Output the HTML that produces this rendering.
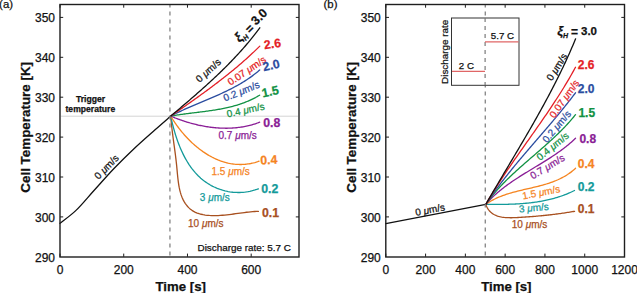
<!DOCTYPE html>
<html><head><meta charset="utf-8"><style>
html,body{margin:0;padding:0;background:#fff;width:637px;height:293px;overflow:hidden}
svg{display:block}
text{font-family:"Liberation Sans", sans-serif;stroke-width:0.25px}
</style></head><body>
<svg width="637" height="293" viewBox="0 0 637 293">
<rect width="637" height="293" fill="#fff"/><g fill="#111" stroke="#111">
<line x1="61" y1="116.2" x2="298" y2="116.2" stroke="#d4d4d4" stroke-width="1"/>
<path d="M60.00,223.30 C62.67,221.15 70.33,215.87 76.00,210.40 C81.67,204.93 87.67,197.48 94.00,190.50 C100.33,183.52 107.33,175.47 114.00,168.50 C120.67,161.53 127.20,155.12 134.00,148.70 C140.80,142.28 148.68,135.43 154.80,130.00 C160.92,124.57 168.05,118.42 170.70,116.10" fill="none" stroke="#111111" stroke-width="1.30" stroke-linecap="round" stroke-linejoin="round"/>
<path d="M170.70,116.10 L170.88,118.32 L171.08,120.51 L171.29,122.68 L171.51,124.82 L171.74,126.93 L171.99,129.03 L172.24,131.11 L172.49,133.17 L172.76,135.21 L173.03,137.25 L173.30,139.28 L173.58,141.30 L173.85,143.32 L174.13,145.34 L174.41,147.36 L174.68,149.38 L174.96,151.41 L175.22,153.45 L175.49,155.50 L175.74,157.57 L175.99,159.65 L176.23,161.75 L176.47,163.87 L176.69,166.01 L176.89,168.18 L177.10,170.37 L177.30,172.58 L177.51,174.79 L177.73,177.01 L177.98,179.23 L178.25,181.44 L178.56,183.63 L178.91,185.80 L179.31,187.95 L179.77,190.06 L180.30,192.13 L180.89,194.15 L181.57,196.12 L182.33,198.03 L183.18,199.88 L184.14,201.65 L185.19,203.34 L186.35,204.95 L187.61,206.47 L188.97,207.87 L190.43,209.17 L191.99,210.35 L193.64,211.40 L195.39,212.31 L197.22,213.08 L199.14,213.73 L201.11,214.26 L203.14,214.69 L205.21,215.03 L207.30,215.29 L209.42,215.47 L211.56,215.58 L213.72,215.62 L215.90,215.61 L218.10,215.54 L220.30,215.42 L222.51,215.26 L224.73,215.06 L226.94,214.83 L229.16,214.57 L231.37,214.30 L233.58,214.01 L235.77,213.71 L237.96,213.40 L240.12,213.10 L242.27,212.81 L244.40,212.53 L246.49,212.27 L248.57,212.03 L250.61,211.82 L252.61,211.65 L254.58,211.52 L256.51,211.43 L258.40,211.40" fill="none" stroke="#a8501f" stroke-width="1.30" stroke-linecap="round" stroke-linejoin="round"/>
<path d="M170.70,116.10 L171.04,117.68 L171.39,119.26 L171.75,120.86 L172.13,122.46 L172.52,124.07 L172.93,125.68 L173.35,127.30 L173.79,128.92 L174.25,130.54 L174.72,132.17 L175.20,133.79 L175.71,135.41 L176.23,137.03 L176.77,138.64 L177.32,140.25 L177.90,141.86 L178.50,143.46 L179.11,145.05 L179.75,146.63 L180.40,148.20 L181.08,149.77 L181.78,151.31 L182.49,152.85 L183.23,154.37 L184.00,155.88 L184.78,157.37 L185.59,158.85 L186.42,160.30 L187.28,161.74 L188.16,163.15 L189.06,164.55 L189.99,165.92 L190.95,167.26 L191.93,168.59 L192.94,169.88 L193.97,171.15 L195.03,172.40 L196.12,173.61 L197.23,174.79 L198.38,175.95 L199.55,177.07 L200.75,178.15 L201.98,179.20 L203.24,180.22 L204.53,181.20 L205.84,182.15 L207.18,183.06 L208.54,183.93 L209.93,184.76 L211.34,185.56 L212.77,186.31 L214.23,187.03 L215.70,187.70 L217.20,188.34 L218.71,188.93 L220.24,189.48 L221.79,189.98 L223.35,190.44 L224.93,190.86 L226.53,191.23 L228.14,191.55 L229.76,191.83 L231.39,192.06 L233.03,192.25 L234.68,192.38 L236.35,192.46 L238.02,192.50 L239.70,192.49 L241.38,192.42 L243.07,192.30 L244.77,192.13 L246.47,191.91 L248.17,191.63 L249.87,191.30 L251.58,190.91 L253.29,190.47 L254.99,189.97 L256.70,189.41 L258.40,188.80" fill="none" stroke="#139a9a" stroke-width="1.30" stroke-linecap="round" stroke-linejoin="round"/>
<path d="M170.70,116.10 L171.38,117.23 L172.07,118.35 L172.78,119.48 L173.51,120.60 L174.25,121.72 L175.00,122.83 L175.77,123.95 L176.55,125.05 L177.35,126.15 L178.17,127.25 L178.99,128.34 L179.83,129.42 L180.69,130.50 L181.55,131.57 L182.43,132.63 L183.33,133.68 L184.23,134.72 L185.15,135.75 L186.09,136.78 L187.03,137.79 L187.99,138.79 L188.96,139.78 L189.94,140.76 L190.94,141.72 L191.94,142.68 L192.96,143.61 L193.99,144.54 L195.03,145.45 L196.08,146.35 L197.14,147.23 L198.21,148.09 L199.29,148.94 L200.39,149.77 L201.49,150.58 L202.61,151.38 L203.73,152.16 L204.86,152.91 L206.01,153.65 L207.16,154.37 L208.32,155.07 L209.49,155.75 L210.67,156.40 L211.86,157.04 L213.06,157.65 L214.26,158.24 L215.48,158.81 L216.70,159.35 L217.93,159.87 L219.17,160.36 L220.41,160.83 L221.66,161.27 L222.92,161.69 L224.19,162.08 L225.46,162.44 L226.75,162.77 L228.03,163.08 L229.33,163.36 L230.63,163.61 L231.93,163.82 L233.25,164.01 L234.57,164.17 L235.89,164.30 L237.22,164.39 L238.55,164.45 L239.89,164.48 L241.24,164.48 L242.59,164.44 L243.94,164.37 L245.30,164.27 L246.66,164.13 L248.03,163.95 L249.40,163.74 L250.78,163.49 L252.16,163.20 L253.54,162.88 L254.93,162.52 L256.31,162.12 L257.71,161.68 L259.10,161.20" fill="none" stroke="#f5841f" stroke-width="1.30" stroke-linecap="round" stroke-linejoin="round"/>
<path d="M170.70,116.10 L171.74,116.54 L172.79,116.98 L173.85,117.40 L174.90,117.83 L175.97,118.24 L177.04,118.65 L178.11,119.05 L179.19,119.45 L180.27,119.84 L181.35,120.22 L182.45,120.59 L183.54,120.96 L184.64,121.32 L185.74,121.67 L186.85,122.02 L187.96,122.35 L189.07,122.68 L190.19,123.00 L191.31,123.31 L192.43,123.62 L193.55,123.91 L194.68,124.20 L195.81,124.48 L196.95,124.75 L198.08,125.01 L199.22,125.26 L200.36,125.50 L201.51,125.73 L202.65,125.96 L203.80,126.17 L204.95,126.37 L206.10,126.57 L207.25,126.75 L208.40,126.93 L209.56,127.09 L210.71,127.24 L211.87,127.38 L213.02,127.52 L214.18,127.64 L215.34,127.75 L216.50,127.85 L217.66,127.94 L218.82,128.01 L219.98,128.08 L221.14,128.13 L222.30,128.18 L223.46,128.21 L224.62,128.22 L225.78,128.23 L226.93,128.23 L228.09,128.21 L229.25,128.18 L230.40,128.14 L231.56,128.08 L232.71,128.01 L233.86,127.93 L235.01,127.84 L236.16,127.73 L237.31,127.61 L238.45,127.47 L239.60,127.33 L240.74,127.16 L241.88,126.99 L243.01,126.80 L244.15,126.60 L245.28,126.38 L246.41,126.15 L247.53,125.90 L248.66,125.64 L249.78,125.36 L250.89,125.07 L252.01,124.77 L253.12,124.45 L254.22,124.11 L255.33,123.76 L256.43,123.39 L257.52,123.01 L258.61,122.61 L259.70,122.20" fill="none" stroke="#8a1e96" stroke-width="1.30" stroke-linecap="round" stroke-linejoin="round"/>
<path d="M170.70,116.10 L171.83,115.90 L172.97,115.70 L174.11,115.51 L175.25,115.33 L176.39,115.15 L177.54,114.97 L178.68,114.80 L179.83,114.63 L180.98,114.47 L182.13,114.31 L183.29,114.15 L184.44,114.00 L185.60,113.84 L186.75,113.69 L187.91,113.55 L189.07,113.40 L190.23,113.25 L191.39,113.11 L192.55,112.97 L193.71,112.82 L194.87,112.68 L196.04,112.54 L197.20,112.40 L198.36,112.25 L199.52,112.11 L200.69,111.96 L201.85,111.82 L203.01,111.67 L204.17,111.52 L205.33,111.36 L206.49,111.21 L207.65,111.05 L208.81,110.89 L209.97,110.72 L211.13,110.56 L212.28,110.38 L213.44,110.21 L214.59,110.02 L215.75,109.84 L216.90,109.65 L218.05,109.45 L219.20,109.25 L220.34,109.04 L221.49,108.82 L222.63,108.60 L223.77,108.38 L224.91,108.14 L226.04,107.90 L227.18,107.65 L228.31,107.39 L229.44,107.12 L230.56,106.85 L231.69,106.57 L232.81,106.27 L233.92,105.97 L235.04,105.66 L236.15,105.34 L237.26,105.01 L238.36,104.67 L239.46,104.31 L240.56,103.95 L241.65,103.58 L242.74,103.19 L243.83,102.79 L244.91,102.38 L245.99,101.96 L247.07,101.52 L248.14,101.07 L249.20,100.61 L250.26,100.14 L251.32,99.65 L252.37,99.14 L253.42,98.62 L254.46,98.09 L255.50,97.55 L256.53,96.98 L257.56,96.40 L258.58,95.81 L259.60,95.20" fill="none" stroke="#119143" stroke-width="1.30" stroke-linecap="round" stroke-linejoin="round"/>
<path d="M170.70,116.10 L171.82,115.51 L172.95,114.93 L174.08,114.36 L175.22,113.79 L176.35,113.23 L177.49,112.68 L178.64,112.13 L179.79,111.58 L180.94,111.04 L182.09,110.51 L183.25,109.98 L184.41,109.45 L185.57,108.93 L186.73,108.41 L187.90,107.90 L189.07,107.38 L190.24,106.87 L191.41,106.37 L192.58,105.86 L193.75,105.36 L194.93,104.86 L196.10,104.36 L197.28,103.86 L198.46,103.36 L199.64,102.87 L200.81,102.37 L201.99,101.88 L203.17,101.38 L204.35,100.88 L205.53,100.39 L206.70,99.89 L207.88,99.39 L209.06,98.89 L210.23,98.39 L211.41,97.89 L212.58,97.38 L213.75,96.88 L214.92,96.37 L216.09,95.85 L217.26,95.34 L218.42,94.82 L219.59,94.29 L220.75,93.77 L221.90,93.24 L223.06,92.70 L224.21,92.16 L225.36,91.62 L226.51,91.06 L227.65,90.51 L228.79,89.95 L229.93,89.38 L231.06,88.81 L232.19,88.23 L233.32,87.64 L234.44,87.04 L235.55,86.44 L236.67,85.83 L237.77,85.22 L238.88,84.59 L239.98,83.96 L241.07,83.32 L242.16,82.67 L243.24,82.01 L244.32,81.34 L245.39,80.66 L246.45,79.97 L247.51,79.27 L248.56,78.56 L249.61,77.84 L250.65,77.11 L251.69,76.37 L252.71,75.62 L253.73,74.85 L254.75,74.07 L255.75,73.28 L256.75,72.48 L257.74,71.67 L258.72,70.84 L259.70,70.00" fill="none" stroke="#2b4da0" stroke-width="1.30" stroke-linecap="round" stroke-linejoin="round"/>
<path d="M170.70,116.10 L171.88,115.28 L173.05,114.46 L174.23,113.64 L175.41,112.82 L176.59,112.00 L177.76,111.18 L178.94,110.36 L180.12,109.54 L181.29,108.71 L182.47,107.89 L183.65,107.07 L184.82,106.24 L186.00,105.42 L187.17,104.59 L188.35,103.77 L189.52,102.94 L190.70,102.11 L191.87,101.28 L193.04,100.45 L194.21,99.61 L195.38,98.78 L196.55,97.95 L197.72,97.11 L198.89,96.27 L200.05,95.43 L201.22,94.59 L202.38,93.75 L203.54,92.90 L204.71,92.06 L205.87,91.21 L207.02,90.36 L208.18,89.51 L209.34,88.65 L210.49,87.79 L211.64,86.94 L212.79,86.08 L213.94,85.21 L215.09,84.35 L216.23,83.48 L217.37,82.61 L218.52,81.74 L219.65,80.86 L220.79,79.98 L221.92,79.10 L223.06,78.22 L224.19,77.33 L225.31,76.44 L226.44,75.55 L227.56,74.66 L228.68,73.76 L229.80,72.86 L230.91,71.95 L232.03,71.05 L233.13,70.13 L234.24,69.22 L235.34,68.30 L236.45,67.38 L237.54,66.46 L238.64,65.53 L239.73,64.60 L240.82,63.66 L241.90,62.72 L242.98,61.78 L244.06,60.83 L245.14,59.88 L246.21,58.92 L247.28,57.96 L248.34,57.00 L249.40,56.03 L250.46,55.06 L251.51,54.08 L252.56,53.10 L253.61,52.11 L254.65,51.12 L255.69,50.13 L256.72,49.13 L257.75,48.12 L258.78,47.11 L259.80,46.10" fill="none" stroke="#e41e26" stroke-width="1.30" stroke-linecap="round" stroke-linejoin="round"/>
<path d="M170.70,116.10 L171.91,115.08 L173.13,114.06 L174.34,113.03 L175.56,112.01 L176.77,110.98 L177.99,109.96 L179.20,108.93 L180.41,107.90 L181.63,106.87 L182.84,105.84 L184.05,104.81 L185.26,103.78 L186.47,102.74 L187.68,101.71 L188.89,100.67 L190.10,99.63 L191.30,98.59 L192.51,97.55 L193.71,96.50 L194.91,95.45 L196.11,94.41 L197.31,93.35 L198.51,92.30 L199.70,91.25 L200.89,90.19 L202.08,89.13 L203.27,88.07 L204.46,87.00 L205.64,85.94 L206.82,84.87 L208.00,83.79 L209.18,82.72 L210.35,81.64 L211.52,80.56 L212.69,79.48 L213.86,78.39 L215.02,77.30 L216.18,76.21 L217.33,75.11 L218.48,74.01 L219.63,72.91 L220.78,71.80 L221.92,70.69 L223.06,69.58 L224.19,68.46 L225.32,67.34 L226.45,66.22 L227.57,65.09 L228.69,63.95 L229.80,62.82 L230.91,61.68 L232.01,60.53 L233.11,59.38 L234.21,58.23 L235.30,57.07 L236.39,55.91 L237.47,54.74 L238.54,53.57 L239.61,52.40 L240.68,51.22 L241.74,50.03 L242.79,48.84 L243.84,47.65 L244.88,46.45 L245.92,45.24 L246.95,44.03 L247.98,42.82 L249.00,41.59 L250.01,40.37 L251.02,39.14 L252.02,37.90 L253.02,36.66 L254.01,35.41 L254.99,34.16 L255.97,32.90 L256.93,31.63 L257.90,30.36 L258.85,29.08 L259.80,27.80" fill="none" stroke="#111111" stroke-width="1.30" stroke-linecap="round" stroke-linejoin="round"/>
<text transform="translate(98.60,180.10) rotate(-46.0)" font-size="10.00" fill="#111111" stroke="#111111" text-anchor="start">0 <tspan font-style="italic">&#956;</tspan>m/s</text>
<text transform="translate(199.50,83.00) rotate(-42.0)" font-size="10.00" fill="#111111" stroke="#111111" text-anchor="start">0 <tspan font-style="italic">&#956;</tspan>m/s</text>
<text transform="translate(230.50,85.80) rotate(-34.0)" font-size="10.00" fill="#e41e26" stroke="#e41e26" text-anchor="start">0.07 <tspan font-style="italic">&#956;</tspan>m/s</text>
<text transform="translate(225.00,101.50) rotate(-22.0)" font-size="10.00" fill="#2b4da0" stroke="#2b4da0" text-anchor="start">0.2 <tspan font-style="italic">&#956;</tspan>m/s</text>
<text transform="translate(227.60,117.40) rotate(-12.0)" font-size="10.00" fill="#119143" stroke="#119143" text-anchor="start">0.4 <tspan font-style="italic">&#956;</tspan>m/s</text>
<text transform="translate(218.50,139.30) rotate(0.0)" font-size="10.00" fill="#8a1e96" stroke="#8a1e96" text-anchor="start">0.7 <tspan font-style="italic">&#956;</tspan>m/s</text>
<text transform="translate(211.50,175.40) rotate(0.0)" font-size="10.00" fill="#f5841f" stroke="#f5841f" text-anchor="start">1.5 <tspan font-style="italic">&#956;</tspan>m/s</text>
<text transform="translate(199.80,200.50) rotate(0.0)" font-size="10.00" fill="#139a9a" stroke="#139a9a" text-anchor="start">3 <tspan font-style="italic">&#956;</tspan>m/s</text>
<text transform="translate(188.00,226.60) rotate(0.0)" font-size="10.00" fill="#a8501f" stroke="#a8501f" text-anchor="start">10 <tspan font-style="italic">&#956;</tspan>m/s</text>
<text transform="translate(264.50,49.20) rotate(-8.0)" font-size="12.30" fill="#e41e26" stroke="#e41e26" text-anchor="start" font-weight="bold">2.6</text>
<text transform="translate(263.80,71.20) rotate(-13.0)" font-size="12.30" fill="#2b4da0" stroke="#2b4da0" text-anchor="start" font-weight="bold">2.0</text>
<text transform="translate(262.70,97.50) rotate(-12.0)" font-size="12.30" fill="#119143" stroke="#119143" text-anchor="start" font-weight="bold">1.5</text>
<text transform="translate(263.20,126.80) rotate(0.0)" font-size="12.30" fill="#8a1e96" stroke="#8a1e96" text-anchor="start" font-weight="bold">0.8</text>
<text transform="translate(260.50,164.60) rotate(-3.0)" font-size="12.30" fill="#f5841f" stroke="#f5841f" text-anchor="start" font-weight="bold">0.4</text>
<text transform="translate(261.20,192.70) rotate(0.0)" font-size="12.30" fill="#139a9a" stroke="#139a9a" text-anchor="start" font-weight="bold">0.2</text>
<text transform="translate(262.00,216.60) rotate(0.0)" font-size="12.30" fill="#a8501f" stroke="#a8501f" text-anchor="start" font-weight="bold">0.1</text>
<g transform="translate(239.50,42.80) rotate(-45.0)" font-weight="bold">
<text x="0" y="0" font-size="13" font-style="italic">&#958;</text>
<text x="5.6" y="3.2" font-size="7" font-style="italic">H</text>
<text x="13.6" y="1.3" font-size="12">=</text>
<text x="23.7" y="-0.3" font-size="12.3">3.0</text>
</g>
<text x="76" y="101.8" font-size="8.6" font-weight="bold">Trigger</text>
<text x="65.5" y="111.6" font-size="8.6" font-weight="bold">temperature</text>
<text x="197.5" y="250.5" font-size="9.88">Discharge rate: 5.7 C</text>
<line x1="60.00" y1="256.80" x2="60.00" y2="253.60" stroke="#1e1e1e" stroke-width="1"/>
<line x1="60.00" y1="4.50" x2="60.00" y2="7.70" stroke="#1e1e1e" stroke-width="1"/>
<line x1="123.73" y1="256.80" x2="123.73" y2="253.60" stroke="#1e1e1e" stroke-width="1"/>
<line x1="123.73" y1="4.50" x2="123.73" y2="7.70" stroke="#1e1e1e" stroke-width="1"/>
<line x1="187.47" y1="256.80" x2="187.47" y2="253.60" stroke="#1e1e1e" stroke-width="1"/>
<line x1="187.47" y1="4.50" x2="187.47" y2="7.70" stroke="#1e1e1e" stroke-width="1"/>
<line x1="251.20" y1="256.80" x2="251.20" y2="253.60" stroke="#1e1e1e" stroke-width="1"/>
<line x1="251.20" y1="4.50" x2="251.20" y2="7.70" stroke="#1e1e1e" stroke-width="1"/>
<line x1="60.00" y1="216.90" x2="63.20" y2="216.90" stroke="#1e1e1e" stroke-width="1"/>
<line x1="299.00" y1="216.90" x2="295.80" y2="216.90" stroke="#1e1e1e" stroke-width="1"/>
<line x1="60.00" y1="177.00" x2="63.20" y2="177.00" stroke="#1e1e1e" stroke-width="1"/>
<line x1="299.00" y1="177.00" x2="295.80" y2="177.00" stroke="#1e1e1e" stroke-width="1"/>
<line x1="60.00" y1="137.10" x2="63.20" y2="137.10" stroke="#1e1e1e" stroke-width="1"/>
<line x1="299.00" y1="137.10" x2="295.80" y2="137.10" stroke="#1e1e1e" stroke-width="1"/>
<line x1="60.00" y1="97.20" x2="63.20" y2="97.20" stroke="#1e1e1e" stroke-width="1"/>
<line x1="299.00" y1="97.20" x2="295.80" y2="97.20" stroke="#1e1e1e" stroke-width="1"/>
<line x1="60.00" y1="57.30" x2="63.20" y2="57.30" stroke="#1e1e1e" stroke-width="1"/>
<line x1="299.00" y1="57.30" x2="295.80" y2="57.30" stroke="#1e1e1e" stroke-width="1"/>
<line x1="60.00" y1="17.40" x2="63.20" y2="17.40" stroke="#1e1e1e" stroke-width="1"/>
<line x1="299.00" y1="17.40" x2="295.80" y2="17.40" stroke="#1e1e1e" stroke-width="1"/>
<text x="55.00" y="261.70" text-anchor="end" font-size="12">290</text>
<text x="55.00" y="221.80" text-anchor="end" font-size="12">300</text>
<text x="55.00" y="181.90" text-anchor="end" font-size="12">310</text>
<text x="55.00" y="142.00" text-anchor="end" font-size="12">320</text>
<text x="55.00" y="102.10" text-anchor="end" font-size="12">330</text>
<text x="55.00" y="62.20" text-anchor="end" font-size="12">340</text>
<text x="55.00" y="22.30" text-anchor="end" font-size="12">350</text>
<text x="60.00" y="273.8" text-anchor="middle" font-size="12">0</text>
<text x="123.73" y="273.8" text-anchor="middle" font-size="12">200</text>
<text x="187.47" y="273.8" text-anchor="middle" font-size="12">400</text>
<text x="251.20" y="273.8" text-anchor="middle" font-size="12">600</text>
<line x1="169.94" y1="4.50" x2="169.94" y2="256.80" stroke="#7a7a7a" stroke-width="1.2" stroke-dasharray="4 4" stroke-dashoffset="1"/>
<rect x="60.00" y="4.50" width="239.00" height="252.50" fill="none" stroke="#1e1e1e" stroke-width="1.4"/>
<text x="180.70" y="291.1" text-anchor="middle" font-size="13.2" font-weight="bold">Time [s]</text>
<text transform="translate(29.90,127.3) rotate(-90)" text-anchor="middle" font-size="13.4" font-weight="bold">Cell Temperature [K]</text>
<path d="M385.80,223.60 L485.80,204.30" fill="none" stroke="#111111" stroke-width="1.30" stroke-linecap="round" stroke-linejoin="round"/>
<path d="M485.80,204.30 L486.26,205.56 L486.77,206.73 L487.34,207.83 L487.95,208.86 L488.62,209.82 L489.32,210.71 L490.08,211.53 L490.87,212.29 L491.71,212.99 L492.59,213.63 L493.50,214.21 L494.45,214.74 L495.43,215.21 L496.44,215.64 L497.49,216.02 L498.56,216.35 L499.66,216.64 L500.78,216.90 L501.92,217.11 L503.09,217.29 L504.27,217.43 L505.47,217.54 L506.69,217.63 L507.92,217.69 L509.16,217.72 L510.41,217.73 L511.67,217.73 L512.93,217.70 L514.20,217.67 L515.47,217.62 L516.75,217.56 L518.02,217.49 L519.29,217.42 L520.55,217.34 L521.81,217.26 L523.06,217.18 L524.31,217.10 L525.55,217.02 L526.79,216.93 L528.02,216.85 L529.25,216.76 L530.47,216.67 L531.69,216.57 L532.91,216.48 L534.12,216.38 L535.33,216.28 L536.54,216.17 L537.74,216.07 L538.94,215.96 L540.14,215.85 L541.33,215.74 L542.52,215.62 L543.71,215.50 L544.90,215.38 L546.09,215.26 L547.28,215.13 L548.46,215.00 L549.64,214.87 L550.83,214.73 L552.01,214.59 L553.19,214.45 L554.37,214.31 L555.55,214.16 L556.73,214.01 L557.92,213.85 L559.10,213.69 L560.28,213.53 L561.46,213.37 L562.65,213.20 L563.84,213.02 L565.02,212.85 L566.21,212.67 L567.40,212.48 L568.60,212.30 L569.79,212.11 L570.99,211.91 L572.19,211.71 L573.39,211.51 L574.60,211.30" fill="none" stroke="#a8501f" stroke-width="1.30" stroke-linecap="round" stroke-linejoin="round"/>
<path d="M485.80,204.30 L486.93,204.32 L488.07,204.33 L489.20,204.35 L490.34,204.36 L491.48,204.37 L492.62,204.38 L493.76,204.39 L494.91,204.39 L496.05,204.40 L497.20,204.40 L498.35,204.40 L499.49,204.39 L500.64,204.39 L501.79,204.38 L502.94,204.37 L504.09,204.35 L505.24,204.33 L506.39,204.31 L507.55,204.29 L508.70,204.26 L509.85,204.22 L511.00,204.19 L512.16,204.14 L513.31,204.10 L514.46,204.05 L515.62,203.99 L516.77,203.93 L517.92,203.87 L519.07,203.80 L520.23,203.72 L521.38,203.64 L522.53,203.56 L523.68,203.47 L524.83,203.37 L525.97,203.26 L527.12,203.16 L528.27,203.04 L529.41,202.92 L530.56,202.79 L531.70,202.65 L532.84,202.51 L533.98,202.36 L535.12,202.20 L536.26,202.04 L537.39,201.87 L538.53,201.69 L539.66,201.50 L540.79,201.31 L541.92,201.10 L543.04,200.89 L544.17,200.67 L545.29,200.44 L546.41,200.21 L547.53,199.96 L548.64,199.70 L549.76,199.44 L550.87,199.17 L551.98,198.88 L553.08,198.59 L554.18,198.29 L555.28,197.98 L556.38,197.66 L557.47,197.32 L558.56,196.98 L559.65,196.63 L560.73,196.26 L561.82,195.89 L562.89,195.50 L563.97,195.11 L565.04,194.70 L566.10,194.28 L567.17,193.85 L568.23,193.41 L569.28,192.95 L570.33,192.49 L571.38,192.01 L572.43,191.52 L573.46,191.02 L574.50,190.50" fill="none" stroke="#139a9a" stroke-width="1.30" stroke-linecap="round" stroke-linejoin="round"/>
<path d="M485.80,204.30 L486.82,203.59 L487.85,202.91 L488.89,202.25 L489.95,201.61 L491.01,200.99 L492.08,200.40 L493.16,199.82 L494.25,199.26 L495.34,198.72 L496.45,198.20 L497.56,197.70 L498.69,197.22 L499.81,196.75 L500.95,196.29 L502.09,195.86 L503.24,195.43 L504.40,195.02 L505.56,194.62 L506.72,194.24 L507.90,193.86 L509.07,193.50 L510.25,193.15 L511.44,192.80 L512.63,192.47 L513.82,192.14 L515.02,191.82 L516.22,191.51 L517.42,191.20 L518.63,190.90 L519.84,190.61 L521.05,190.32 L522.26,190.03 L523.47,189.74 L524.68,189.46 L525.90,189.18 L527.11,188.90 L528.33,188.62 L529.54,188.34 L530.76,188.06 L531.97,187.78 L533.18,187.49 L534.40,187.20 L535.61,186.91 L536.81,186.61 L538.02,186.31 L539.22,186.00 L540.42,185.69 L541.62,185.37 L542.81,185.04 L544.00,184.70 L545.19,184.36 L546.37,184.00 L547.54,183.64 L548.71,183.26 L549.88,182.87 L551.04,182.47 L552.20,182.06 L553.34,181.63 L554.49,181.19 L555.62,180.73 L556.75,180.25 L557.87,179.77 L558.98,179.26 L560.09,178.73 L561.18,178.19 L562.27,177.63 L563.35,177.05 L564.42,176.45 L565.48,175.83 L566.53,175.18 L567.57,174.52 L568.60,173.83 L569.62,173.11 L570.63,172.38 L571.63,171.61 L572.62,170.82 L573.59,170.01 L574.55,169.17 L575.50,168.30" fill="none" stroke="#f5841f" stroke-width="1.30" stroke-linecap="round" stroke-linejoin="round"/>
<path d="M485.80,204.30 L486.74,203.22 L487.70,202.16 L488.67,201.11 L489.65,200.08 L490.64,199.06 L491.65,198.06 L492.66,197.08 L493.69,196.10 L494.73,195.14 L495.77,194.20 L496.83,193.26 L497.89,192.34 L498.97,191.43 L500.05,190.53 L501.15,189.65 L502.25,188.77 L503.36,187.91 L504.47,187.05 L505.60,186.20 L506.73,185.37 L507.87,184.54 L509.01,183.72 L510.16,182.91 L511.32,182.11 L512.48,181.31 L513.65,180.52 L514.82,179.74 L516.00,178.96 L517.19,178.19 L518.37,177.42 L519.56,176.66 L520.76,175.91 L521.95,175.16 L523.16,174.41 L524.36,173.66 L525.56,172.92 L526.77,172.18 L527.98,171.44 L529.19,170.71 L530.41,169.97 L531.62,169.24 L532.83,168.51 L534.05,167.78 L535.26,167.05 L536.48,166.31 L537.69,165.58 L538.90,164.84 L540.12,164.11 L541.33,163.37 L542.53,162.63 L543.74,161.88 L544.95,161.14 L546.15,160.39 L547.35,159.63 L548.54,158.87 L549.73,158.11 L550.92,157.34 L552.11,156.56 L553.29,155.78 L554.46,154.99 L555.63,154.20 L556.80,153.40 L557.95,152.59 L559.11,151.77 L560.26,150.95 L561.40,150.11 L562.53,149.27 L563.66,148.42 L564.78,147.56 L565.89,146.68 L566.99,145.80 L568.09,144.91 L569.17,144.00 L570.25,143.08 L571.32,142.15 L572.38,141.21 L573.43,140.25 L574.47,139.28 L575.50,138.30" fill="none" stroke="#8a1e96" stroke-width="1.30" stroke-linecap="round" stroke-linejoin="round"/>
<path d="M485.80,204.30 L486.74,202.97 L487.70,201.66 L488.67,200.36 L489.65,199.07 L490.65,197.80 L491.65,196.54 L492.67,195.28 L493.70,194.04 L494.74,192.81 L495.79,191.59 L496.85,190.38 L497.92,189.18 L498.99,187.99 L500.08,186.81 L501.18,185.64 L502.28,184.48 L503.39,183.32 L504.52,182.18 L505.64,181.04 L506.78,179.90 L507.92,178.78 L509.07,177.66 L510.23,176.55 L511.39,175.44 L512.56,174.34 L513.73,173.25 L514.91,172.16 L516.09,171.08 L517.28,170.00 L518.47,168.92 L519.66,167.85 L520.86,166.78 L522.06,165.71 L523.27,164.65 L524.48,163.59 L525.69,162.53 L526.90,161.48 L528.11,160.42 L529.33,159.37 L530.54,158.32 L531.76,157.27 L532.98,156.22 L534.19,155.17 L535.41,154.12 L536.63,153.06 L537.84,152.01 L539.06,150.96 L540.27,149.90 L541.48,148.85 L542.69,147.79 L543.90,146.73 L545.11,145.66 L546.31,144.59 L547.51,143.52 L548.70,142.45 L549.89,141.37 L551.08,140.29 L552.26,139.20 L553.44,138.11 L554.61,137.01 L555.78,135.90 L556.94,134.79 L558.09,133.68 L559.24,132.55 L560.39,131.42 L561.52,130.29 L562.65,129.14 L563.77,127.99 L564.88,126.83 L565.98,125.66 L567.08,124.48 L568.17,123.29 L569.24,122.10 L570.31,120.89 L571.37,119.67 L572.42,118.45 L573.46,117.21 L574.48,115.96 L575.50,114.70" fill="none" stroke="#119143" stroke-width="1.30" stroke-linecap="round" stroke-linejoin="round"/>
<path d="M485.80,204.30 L486.80,202.79 L487.81,201.28 L488.83,199.78 L489.86,198.28 L490.90,196.80 L491.94,195.31 L492.99,193.83 L494.04,192.36 L495.10,190.89 L496.17,189.43 L497.25,187.97 L498.33,186.52 L499.41,185.07 L500.51,183.63 L501.60,182.19 L502.71,180.76 L503.82,179.33 L504.93,177.90 L506.05,176.48 L507.17,175.06 L508.30,173.64 L509.43,172.23 L510.57,170.82 L511.71,169.41 L512.86,168.01 L514.00,166.61 L515.16,165.21 L516.31,163.82 L517.47,162.42 L518.63,161.03 L519.79,159.65 L520.96,158.26 L522.13,156.88 L523.30,155.49 L524.47,154.11 L525.65,152.73 L526.83,151.35 L528.01,149.98 L529.19,148.60 L530.37,147.23 L531.55,145.85 L532.73,144.48 L533.92,143.10 L535.10,141.73 L536.28,140.36 L537.47,138.99 L538.65,137.61 L539.84,136.24 L541.02,134.87 L542.21,133.49 L543.39,132.12 L544.57,130.74 L545.75,129.37 L546.93,127.99 L548.11,126.61 L549.29,125.23 L550.46,123.85 L551.63,122.47 L552.80,121.08 L553.97,119.69 L555.14,118.30 L556.30,116.91 L557.46,115.52 L558.62,114.12 L559.77,112.73 L560.93,111.33 L562.07,109.92 L563.22,108.51 L564.36,107.10 L565.49,105.69 L566.62,104.27 L567.75,102.85 L568.87,101.43 L569.99,100.00 L571.10,98.57 L572.21,97.13 L573.31,95.69 L574.41,94.25 L575.50,92.80" fill="none" stroke="#2b4da0" stroke-width="1.30" stroke-linecap="round" stroke-linejoin="round"/>
<path d="M485.80,204.30 L486.85,202.50 L487.90,200.71 L488.96,198.93 L490.03,197.15 L491.10,195.37 L492.19,193.60 L493.28,191.84 L494.38,190.08 L495.48,188.32 L496.59,186.57 L497.71,184.82 L498.84,183.07 L499.97,181.33 L501.10,179.60 L502.24,177.86 L503.39,176.13 L504.54,174.40 L505.70,172.68 L506.85,170.96 L508.02,169.24 L509.19,167.52 L510.36,165.81 L511.53,164.10 L512.71,162.39 L513.89,160.68 L515.08,158.97 L516.26,157.27 L517.45,155.57 L518.64,153.87 L519.84,152.17 L521.03,150.47 L522.22,148.77 L523.42,147.07 L524.62,145.37 L525.82,143.68 L527.01,141.98 L528.21,140.29 L529.41,138.59 L530.61,136.89 L531.81,135.20 L533.00,133.50 L534.20,131.80 L535.39,130.11 L536.58,128.41 L537.77,126.71 L538.96,125.00 L540.15,123.30 L541.33,121.60 L542.51,119.89 L543.69,118.18 L544.87,116.47 L546.04,114.76 L547.21,113.05 L548.37,111.33 L549.53,109.61 L550.69,107.89 L551.84,106.17 L552.98,104.44 L554.12,102.71 L555.26,100.97 L556.39,99.24 L557.51,97.50 L558.63,95.75 L559.74,94.00 L560.85,92.25 L561.95,90.49 L563.04,88.73 L564.12,86.97 L565.20,85.19 L566.27,83.42 L567.33,81.64 L568.38,79.85 L569.43,78.06 L570.46,76.27 L571.49,74.47 L572.51,72.66 L573.51,70.84 L574.51,69.03 L575.50,67.20" fill="none" stroke="#e41e26" stroke-width="1.30" stroke-linecap="round" stroke-linejoin="round"/>
<path d="M485.80,204.30 L486.99,202.24 L488.19,200.17 L489.38,198.11 L490.58,196.05 L491.79,194.00 L492.99,191.94 L494.20,189.88 L495.41,187.83 L496.62,185.77 L497.83,183.72 L499.05,181.66 L500.26,179.61 L501.48,177.56 L502.69,175.50 L503.91,173.45 L505.13,171.40 L506.35,169.35 L507.57,167.30 L508.79,165.25 L510.01,163.19 L511.23,161.14 L512.45,159.09 L513.66,157.04 L514.88,154.98 L516.10,152.93 L517.31,150.87 L518.53,148.82 L519.74,146.76 L520.95,144.70 L522.16,142.65 L523.37,140.59 L524.57,138.53 L525.77,136.46 L526.97,134.40 L528.17,132.34 L529.37,130.27 L530.56,128.20 L531.75,126.13 L532.93,124.06 L534.11,121.99 L535.29,119.91 L536.46,117.84 L537.63,115.76 L538.80,113.68 L539.96,111.59 L541.12,109.51 L542.27,107.42 L543.42,105.33 L544.56,103.24 L545.69,101.14 L546.83,99.04 L547.95,96.94 L549.07,94.83 L550.19,92.73 L551.29,90.62 L552.39,88.50 L553.49,86.38 L554.58,84.26 L555.66,82.14 L556.73,80.01 L557.80,77.88 L558.86,75.74 L559.92,73.61 L560.96,71.46 L562.00,69.32 L563.03,67.17 L564.05,65.01 L565.06,62.85 L566.06,60.69 L567.06,58.52 L568.05,56.35 L569.02,54.17 L569.99,51.99 L570.95,49.80 L571.90,47.61 L572.84,45.42 L573.77,43.22 L574.69,41.01 L575.60,38.80" fill="none" stroke="#111111" stroke-width="1.30" stroke-linecap="round" stroke-linejoin="round"/>
<text transform="translate(416.00,216.00) rotate(-11.0)" font-size="10.00" fill="#111111" stroke="#111111" text-anchor="start">0 <tspan font-style="italic">&#956;</tspan>m/s</text>
<text transform="translate(551.80,81.50) rotate(-58.0)" font-size="10.00" fill="#111111" stroke="#111111" text-anchor="start">0 <tspan font-style="italic">&#956;</tspan>m/s</text>
<text transform="translate(554.50,118.70) rotate(-55.0)" font-size="10.00" fill="#e41e26" stroke="#e41e26" text-anchor="start">0.07 <tspan font-style="italic">&#956;</tspan>m/s</text>
<text transform="translate(547.00,143.40) rotate(-50.0)" font-size="10.00" fill="#2b4da0" stroke="#2b4da0" text-anchor="start">0.2 <tspan font-style="italic">&#956;</tspan>m/s</text>
<text transform="translate(540.00,161.00) rotate(-39.0)" font-size="10.00" fill="#119143" stroke="#119143" text-anchor="start">0.4 <tspan font-style="italic">&#956;</tspan>m/s</text>
<text transform="translate(532.70,179.50) rotate(-31.0)" font-size="10.00" fill="#8a1e96" stroke="#8a1e96" text-anchor="start">0.7 <tspan font-style="italic">&#956;</tspan>m/s</text>
<text transform="translate(523.00,199.40) rotate(-11.0)" font-size="10.00" fill="#f5841f" stroke="#f5841f" text-anchor="start">1.5 <tspan font-style="italic">&#956;</tspan>m/s</text>
<text transform="translate(519.20,212.50) rotate(-5.0)" font-size="10.00" fill="#139a9a" stroke="#139a9a" text-anchor="start">3 <tspan font-style="italic">&#956;</tspan>m/s</text>
<text transform="translate(511.80,227.90) rotate(0.0)" font-size="10.00" fill="#a8501f" stroke="#a8501f" text-anchor="start">10 <tspan font-style="italic">&#956;</tspan>m/s</text>
<text transform="translate(577.80,69.20) rotate(0.0)" font-size="12.00" fill="#e41e26" stroke="#e41e26" text-anchor="start" font-weight="bold">2.6</text>
<text transform="translate(577.80,93.20) rotate(0.0)" font-size="12.00" fill="#2b4da0" stroke="#2b4da0" text-anchor="start" font-weight="bold">2.0</text>
<text transform="translate(578.40,117.40) rotate(0.0)" font-size="12.00" fill="#119143" stroke="#119143" text-anchor="start" font-weight="bold">1.5</text>
<text transform="translate(579.40,143.40) rotate(0.0)" font-size="12.00" fill="#8a1e96" stroke="#8a1e96" text-anchor="start" font-weight="bold">0.8</text>
<text transform="translate(577.80,168.40) rotate(0.0)" font-size="12.00" fill="#f5841f" stroke="#f5841f" text-anchor="start" font-weight="bold">0.4</text>
<text transform="translate(577.80,190.50) rotate(0.0)" font-size="12.00" fill="#139a9a" stroke="#139a9a" text-anchor="start" font-weight="bold">0.2</text>
<text transform="translate(577.80,213.00) rotate(0.0)" font-size="12.00" fill="#a8501f" stroke="#a8501f" text-anchor="start" font-weight="bold">0.1</text>
<g transform="translate(557.30,34.80) rotate(0.0)" font-weight="bold">
<text x="0" y="0" font-size="13" font-style="italic">&#958;</text>
<text x="5.6" y="3.2" font-size="7" font-style="italic">H</text>
<text x="13.6" y="1.3" font-size="12">=</text>
<text x="23.7" y="-0.3" font-size="11.5">3.0</text>
</g>
<line x1="385.80" y1="256.80" x2="385.80" y2="253.60" stroke="#1e1e1e" stroke-width="1"/>
<line x1="385.80" y1="4.50" x2="385.80" y2="7.70" stroke="#1e1e1e" stroke-width="1"/>
<line x1="425.58" y1="256.80" x2="425.58" y2="253.60" stroke="#1e1e1e" stroke-width="1"/>
<line x1="425.58" y1="4.50" x2="425.58" y2="7.70" stroke="#1e1e1e" stroke-width="1"/>
<line x1="465.37" y1="256.80" x2="465.37" y2="253.60" stroke="#1e1e1e" stroke-width="1"/>
<line x1="465.37" y1="4.50" x2="465.37" y2="7.70" stroke="#1e1e1e" stroke-width="1"/>
<line x1="505.15" y1="256.80" x2="505.15" y2="253.60" stroke="#1e1e1e" stroke-width="1"/>
<line x1="505.15" y1="4.50" x2="505.15" y2="7.70" stroke="#1e1e1e" stroke-width="1"/>
<line x1="544.93" y1="256.80" x2="544.93" y2="253.60" stroke="#1e1e1e" stroke-width="1"/>
<line x1="544.93" y1="4.50" x2="544.93" y2="7.70" stroke="#1e1e1e" stroke-width="1"/>
<line x1="584.72" y1="256.80" x2="584.72" y2="253.60" stroke="#1e1e1e" stroke-width="1"/>
<line x1="584.72" y1="4.50" x2="584.72" y2="7.70" stroke="#1e1e1e" stroke-width="1"/>
<line x1="624.50" y1="256.80" x2="624.50" y2="253.60" stroke="#1e1e1e" stroke-width="1"/>
<line x1="624.50" y1="4.50" x2="624.50" y2="7.70" stroke="#1e1e1e" stroke-width="1"/>
<line x1="385.80" y1="216.90" x2="389.00" y2="216.90" stroke="#1e1e1e" stroke-width="1"/>
<line x1="624.50" y1="216.90" x2="621.30" y2="216.90" stroke="#1e1e1e" stroke-width="1"/>
<line x1="385.80" y1="177.00" x2="389.00" y2="177.00" stroke="#1e1e1e" stroke-width="1"/>
<line x1="624.50" y1="177.00" x2="621.30" y2="177.00" stroke="#1e1e1e" stroke-width="1"/>
<line x1="385.80" y1="137.10" x2="389.00" y2="137.10" stroke="#1e1e1e" stroke-width="1"/>
<line x1="624.50" y1="137.10" x2="621.30" y2="137.10" stroke="#1e1e1e" stroke-width="1"/>
<line x1="385.80" y1="97.20" x2="389.00" y2="97.20" stroke="#1e1e1e" stroke-width="1"/>
<line x1="624.50" y1="97.20" x2="621.30" y2="97.20" stroke="#1e1e1e" stroke-width="1"/>
<line x1="385.80" y1="57.30" x2="389.00" y2="57.30" stroke="#1e1e1e" stroke-width="1"/>
<line x1="624.50" y1="57.30" x2="621.30" y2="57.30" stroke="#1e1e1e" stroke-width="1"/>
<line x1="385.80" y1="17.40" x2="389.00" y2="17.40" stroke="#1e1e1e" stroke-width="1"/>
<line x1="624.50" y1="17.40" x2="621.30" y2="17.40" stroke="#1e1e1e" stroke-width="1"/>
<text x="380.80" y="261.70" text-anchor="end" font-size="12">290</text>
<text x="380.80" y="221.80" text-anchor="end" font-size="12">300</text>
<text x="380.80" y="181.90" text-anchor="end" font-size="12">310</text>
<text x="380.80" y="142.00" text-anchor="end" font-size="12">320</text>
<text x="380.80" y="102.10" text-anchor="end" font-size="12">330</text>
<text x="380.80" y="62.20" text-anchor="end" font-size="12">340</text>
<text x="380.80" y="22.30" text-anchor="end" font-size="12">350</text>
<text x="385.80" y="273.8" text-anchor="middle" font-size="12">0</text>
<text x="425.58" y="273.8" text-anchor="middle" font-size="12">200</text>
<text x="465.37" y="273.8" text-anchor="middle" font-size="12">400</text>
<text x="505.15" y="273.8" text-anchor="middle" font-size="12">600</text>
<text x="544.93" y="273.8" text-anchor="middle" font-size="12">800</text>
<text x="584.72" y="273.8" text-anchor="middle" font-size="12">1000</text>
<text x="624.50" y="273.8" text-anchor="middle" font-size="12">1200</text>
<line x1="485.26" y1="4.50" x2="485.26" y2="256.80" stroke="#7a7a7a" stroke-width="1.2" stroke-dasharray="4 4" stroke-dashoffset="1"/>
<rect x="385.80" y="4.50" width="238.70" height="252.50" fill="none" stroke="#1e1e1e" stroke-width="1.4"/>
<text x="506.35" y="291.1" text-anchor="middle" font-size="13.2" font-weight="bold">Time [s]</text>
<text transform="translate(355.70,127.3) rotate(-90)" text-anchor="middle" font-size="13.4" font-weight="bold">Cell Temperature [K]</text>
<rect x="451.5" y="18" width="67.5" height="67.3" fill="#fff" stroke="#333" stroke-width="1"/>
<line x1="485.1" y1="18" x2="485.1" y2="85.3" stroke="#7a7a7a" stroke-width="1.2" stroke-dasharray="4 4"/>
<line x1="452" y1="71.3" x2="485" y2="71.3" stroke="#e06666" stroke-width="1.3"/>
<line x1="485" y1="41.9" x2="518.5" y2="41.9" stroke="#e06666" stroke-width="1.3"/>
<text x="458.8" y="69.3" font-size="9.7">2 C</text>
<text x="490.8" y="39.4" font-size="9.7">5.7 C</text>
<text transform="translate(448.4,83.9) rotate(-90)" font-size="9.9">Discharge rate</text>
<text x="-0.9" y="8.2" font-size="11.4">(a)</text>
<text x="323.5" y="8.3" font-size="11.4">(b)</text>
</g></svg>
</body></html>
